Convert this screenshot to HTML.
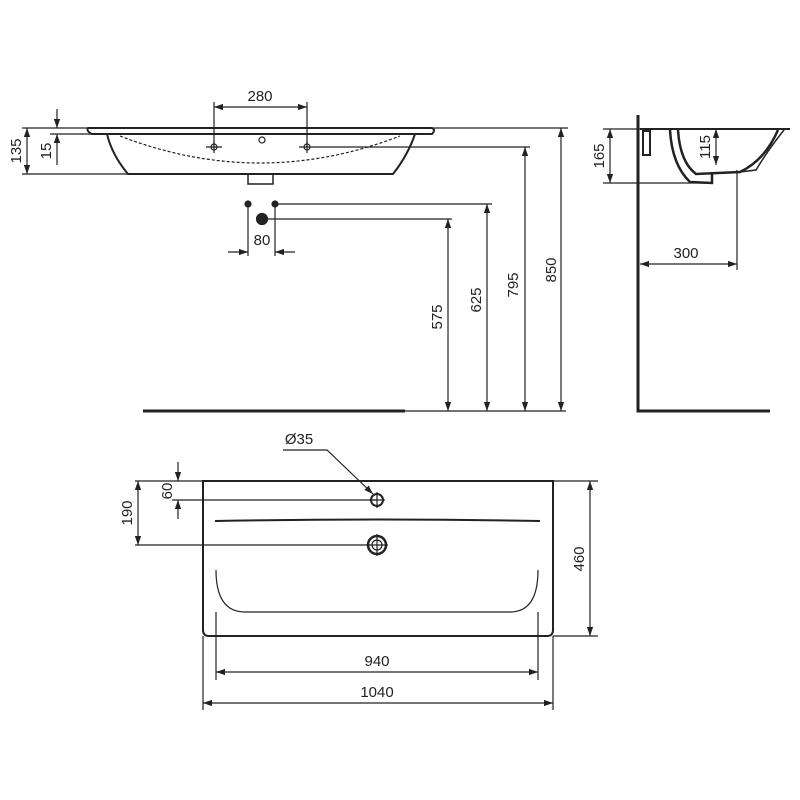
<!DOCTYPE html>
<html><head><style>body{margin:0;background:#fff}svg{display:block}</style></head><body>
<svg width="800" height="800" viewBox="0 0 800 800" xmlns="http://www.w3.org/2000/svg" font-family="Liberation Sans, sans-serif" font-size="15" fill="none" stroke="#222">
<defs>
<marker id="a" viewBox="0 0 10 10" refX="10" refY="5" markerWidth="9" markerHeight="9" orient="auto-start-reverse" markerUnits="userSpaceOnUse"><path d="M0,1.5 L10,5 L0,8.5z" fill="#222" stroke="none"/></marker>
</defs>
<g stroke-width="1.2">
<path d="M88,128 L432,128 Q436,130 432,134 L92,134 Q86,131 88,128z" stroke-width="2"/>
<path d="M107,134 Q112,155 128,174 L393,174 Q408,155 415,134" stroke-width="2"/>
<path d="M120,136 Q260,190 400,136" stroke-dasharray="3,2"/>
<path d="M248,174 L248,184 L273,184 L273,174" stroke-width="1.5"/>
<circle cx="262" cy="140" r="3"/>
<path d="M206,147 h16 M214,141 v12 M299,147 h16 M307,141 v12"/>
<circle cx="214" cy="147" r="3"/><circle cx="307" cy="147" r="3"/>
<path d="M214,102 V147 M307,102 V147"/>
<path d="M214,107 H307" marker-start="url(#a)" marker-end="url(#a)"/>
<path d="M22,128 H88 M22,174 H128 M50,134 H92"/>
<path d="M27,128 V174" marker-start="url(#a)" marker-end="url(#a)"/>
<path d="M57,109 V128" marker-end="url(#a)"/>
<path d="M57,165 V134" marker-end="url(#a)"/>
<path d="M432,128 H568 M315,147 H530"/>
<circle cx="248" cy="204" r="3" fill="#222"/><circle cx="275" cy="204" r="3" fill="#222"/><circle cx="262" cy="219" r="5.5" fill="#222"/>
<path d="M275,204 H492 M262,219 H452 M248,204 V256 M275,204 V256"/>
<path d="M228,252 H248" marker-end="url(#a)"/><path d="M295,252 H275" marker-end="url(#a)"/>
<path d="M448,219 V411" marker-start="url(#a)" marker-end="url(#a)"/>
<path d="M487,204 V411" marker-start="url(#a)" marker-end="url(#a)"/>
<path d="M525,147 V411" marker-start="url(#a)" marker-end="url(#a)"/>
<path d="M561,128 V411" marker-start="url(#a)" marker-end="url(#a)"/>
<path d="M400,411 H566"/>
<path d="M143,411 H405" stroke-width="3"/>
<path d="M638,115 V411 H770" stroke-width="3"/>
<path d="M640,129 H790" stroke-width="2"/>
<path d="M643,131 h7 v24 h-7z" stroke-width="2"/>
<path d="M670,130 Q672,165 690,182 L712,183 L712,172" stroke-width="2.5"/>
<path d="M678,130 Q680,162 696,174 L740,172 Q765,160 778,130" stroke-width="2.5"/>
<path d="M740,172 L756,170 Q768,150 784,130" stroke-width="1.5"/>
<path d="M603,129 H640 M603,183 H712"/>
<path d="M610,129 V183" marker-start="url(#a)" marker-end="url(#a)"/>
<path d="M716,129 V165" marker-start="url(#a)" marker-end="url(#a)"/>
<path d="M737,170 V270"/>
<path d="M640,264 H737" marker-start="url(#a)" marker-end="url(#a)"/>
<path d="M203,481 H553 V630 Q553,636 547,636 H209 Q203,636 203,630z" stroke-width="2"/>
<path d="M215,521 Q377,518 540,521" stroke-width="2"/>
<circle cx="377" cy="500" r="6" stroke-width="2"/>
<path d="M369,500 h16 M377,492 v16"/>
<circle cx="377" cy="545" r="9" stroke-width="2.5"/><circle cx="377" cy="545" r="5"/>
<path d="M366,545 h22 M377,534 v22"/>
<path d="M216,570 Q216,612 245,612 L510,612 Q538,612 538,570"/>
<path d="M283,450 H327 L373,494" marker-end="url(#a)"/>
<path d="M135,481 H203 M172,500 H377 M135,545 H370 M553,481 H598 M553,636 H598"/>
<path d="M178,462 V481" marker-end="url(#a)"/><path d="M178,519 V500" marker-end="url(#a)"/>
<path d="M138,481 V545" marker-start="url(#a)" marker-end="url(#a)"/>
<path d="M590,481 V636" marker-start="url(#a)" marker-end="url(#a)"/>
<path d="M216,612 V680 M538,612 V680 M203,636 V710 M553,636 V710"/>
<path d="M216,672 H538" marker-start="url(#a)" marker-end="url(#a)"/>
<path d="M203,703 H553" marker-start="url(#a)" marker-end="url(#a)"/>
</g>
<g fill="#222" stroke="none" text-anchor="middle">
<text x="260" y="101">280</text>
<text x="262" y="245">80</text>
<text transform="translate(21,151) rotate(-90)">135</text>
<text transform="translate(51,151) rotate(-90)">15</text>
<text transform="translate(442,317) rotate(-90)">575</text>
<text transform="translate(481,300) rotate(-90)">625</text>
<text transform="translate(518,285) rotate(-90)">795</text>
<text transform="translate(556,270) rotate(-90)">850</text>
<text transform="translate(604,156) rotate(-90)">165</text>
<text transform="translate(710,147) rotate(-90)">115</text>
<text x="686" y="258">300</text>
<text x="299" y="444">Ø35</text>
<text transform="translate(172,491) rotate(-90)">60</text>
<text transform="translate(132,513) rotate(-90)">190</text>
<text transform="translate(584,559) rotate(-90)">460</text>
<text x="377" y="666">940</text>
<text x="377" y="697">1040</text>
</g>
</svg>
</body></html>
